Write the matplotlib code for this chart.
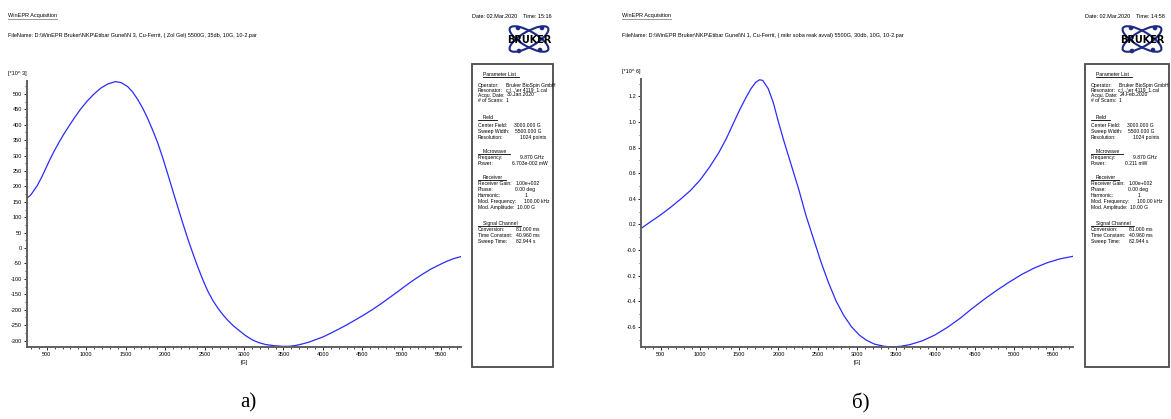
import matplotlib
matplotlib.use("Agg")
import matplotlib.pyplot as plt
from matplotlib.patches import Rectangle, Ellipse
from matplotlib.ticker import MultipleLocator, FixedLocator, FixedFormatter

field_a = [255, 300, 381, 440, 487, 540, 593, 660, 720, 785, 847, 930, 1017, 1100, 1186,
           1271, 1369, 1441, 1525, 1590, 1653, 1720, 1780, 1845, 1907, 1970, 2034, 2100,
           2161, 2225, 2288, 2350, 2415, 2480, 2542, 2605, 2669, 2735, 2797, 2860, 2936,
           3020, 3106, 3190, 3275, 3390, 3500, 3580, 3657, 3740, 3826, 3910, 4004, 4100,
           4208, 4310, 4419, 4525, 4631, 4740, 4843, 4950, 5055, 5160, 5267, 5370, 5479,
           5560, 5648, 5745]
signal_a = [163, 173, 203, 232, 258, 287, 314, 345, 371, 397, 421, 451, 478, 500, 519,
            532, 540, 537, 524, 506, 482, 452, 420, 381, 341, 293, 240, 184,
            133, 80, 30, -16, -62, -104, -140, -170, -195, -217, -235, -251, -267,
            -284, -298, -307, -313, -317, -319, -318.5, -316, -311, -305, -297, -288, -276,
            -262, -248, -232, -216, -199, -180, -161, -141, -121, -102, -84, -68, -54,
            -44, -35, -28]

field_b = [255, 370, 490, 620, 750, 880, 1000, 1120, 1240, 1340, 1430, 1510, 1590, 1650,
           1710, 1760, 1800, 1870, 1935, 2000, 2065, 2160, 2260, 2350, 2450, 2545, 2640,
           2735, 2830, 2930, 3030, 3120, 3220, 3340, 3450, 3560, 3670, 3830, 3990, 4150,
           4310, 4460, 4620, 4780, 4940, 5100, 5260, 5420, 5580, 5745]
signal_b = [0.17, 0.22, 0.27, 0.33, 0.395, 0.465, 0.545, 0.645, 0.76, 0.875, 0.995, 1.10,
            1.195, 1.26, 1.31, 1.33, 1.325, 1.26, 1.15, 1.00, 0.86, 0.67, 0.47, 0.27, 0.08,
            -0.10, -0.26, -0.40, -0.51, -0.60, -0.665, -0.705, -0.735, -0.752, -0.758,
            -0.752, -0.74, -0.71, -0.665, -0.605, -0.535, -0.46, -0.385, -0.315, -0.25,
            -0.19, -0.14, -0.10, -0.07, -0.05]

xticks = [500, 1000, 1500, 2000, 2500, 3000, 3500, 4000, 4500, 5000, 5500]
yticks_a = [-300, -250, -200, -150, -100, -50, 0, 50, 100, 150, 200, 250, 300, 350, 400, 450, 500]
yticks_b = [-0.6, -0.4, -0.2, 0.0, 0.2, 0.4, 0.6, 0.8, 1.0, 1.2]
ylabels_b = ["-0.6", "-0.4", "-0.2", "-0.0", "0.2", "0.4", "0.6", "0.8", "1.0", "1.2"]

filename_a = "FileName: D:\\WinEPR Bruker\\NKP\\Etibar Gunel\\N 3, Cu-Ferrit, ( Zol Gel) 5500G, 35db, 10G, 10-2.par"
filename_b = "FileName: D:\\WinEPR Bruker\\NKP\\Etibar Gunel\\N 1, Cu-Ferrit, ( mikr soba reak avval) 5500G, 30db, 10G, 10-2.par"
date_a = "Date: 02.Mar.2020    Time: 15:16"
date_b = "Date: 02.Mar.2020    Time: 14:58"

param_labels = ["Operator:", "Resonator:", "Acqu. Date:", "# of Scans:",
                "Center Field:", "Sweep Width:", "Resolution:",
                "Frequency:", "Power:",
                "Receiver Gain:", "Phase:", "Harmonic:", "Mod. Frequency:", "Mod. Amplitude:",
                "Conversion:", "Time Constant:", "Sweep Time:"]
param_values_a = ["Bruker BioSpin GmbH", "c:\\...\\er 4119_1.cal", "30.Jan.2020", "1",
                  "3000.000 G", "5500.000 G", "1024 points",
                  "9.870 GHz", "6.703e-002 mW",
                  "1.00e+002", "0.00 deg", "1", "100.00 kHz", "10.00 G",
                  "81.000 ms", "40.960 ms", "82.944 s"]
param_values_b = ["Bruker BioSpin GmbH", "c:\\...\\er 4119_1.cal", "24.Feb.2020", "1",
                  "3000.000 G", "5500.000 G", "1024 points",
                  "9.870 GHz", "0.211 mW",
                  "1.00e+002", "0.00 deg", "1", "100.00 kHz", "10.00 G",
                  "81.000 ms", "40.960 ms", "82.944 s"]
headings = ["Parameter List", "Field", "Microwave", "Receiver", "Signal Channel"]

# --- layout (pixels) ---
W, H = 1171, 419
row_y = [85, 90, 95, 100, 125, 131, 137, 157, 163, 183, 189, 195, 201, 207, 229, 235, 241]
value_dx = [34, 32, 27, 23, 42, 43, 48, 48, 40, 44, 43, 53, 52, 44, 44, 44, 44]
heading_y = [74, 117, 151, 177, 223]

FONT = "Liberation Sans"
SMALL = 4.0
BOXFS = 3.6
BLUE = "#2b2bff"
GREY = "#606060"

fig = plt.figure(figsize=(W / 100, H / 100), dpi=100)
ov = fig.add_axes([0, 0, 1, 1])
ov.set_xlim(0, W)
ov.set_ylim(H, 0)
ov.axis("off")
renderer = fig.canvas.get_renderer()


def right_edge(t):
    bb = t.get_window_extent(renderer=renderer)
    return ov.transData.inverted().transform((bb.x1, bb.y0))[0]


def underline(t, x0, pad=3, dy=2.5, color="black"):
    y = t.get_position()[1] + dy
    ov.plot([x0, right_edge(t) + pad], [y, y], color=color, lw=0.6)


def logo(cx, cy):
    navy = "#1c2a86"
    for ang in (30, -30):
        ov.add_patch(Ellipse((cx, cy), 44, 15, angle=ang, fill=False, ec=navy, lw=1.5))
    for dx, dy in ((-11, -11), (-10, 12), (13, -11), (11, 11)):
        ov.add_patch(Ellipse((cx + dx, cy + dy), 3.2, 3.2, color=navy))
    ov.text(cx, cy + 1, "BRUKER", fontsize=7, fontweight="bold", family="DejaVu Sans",
            ha="center", va="center", color="black")


def panel(ox, plot_right, plot_top, field, signal, ylim, yticks, ylabels, yminor,
          scale, fname, date, values, box_left, box_right, caption):
    # header texts
    t = ov.text(ox + 8, 16, "WinEPR Acquisition", fontsize=SMALL, family=FONT, va="center")
    underline(t, ox + 8, pad=0, dy=3, color="#888888")
    ov.text(ox + 8, 36, fname, fontsize=SMALL, family=FONT, va="center")
    ov.text(ox + 8, plot_top - 8, scale, fontsize=SMALL, family=FONT, va="center")

    # spectrum
    left, bottom = ox + 27, 347
    ax = fig.add_axes([left / W, 1 - bottom / H, (plot_right - left) / W, (bottom - plot_top) / H])
    ax.set_facecolor("none")
    ax.plot(field, signal, color=BLUE, lw=0.9)
    ax.set_xlim(250, 5750)
    ax.set_ylim(*ylim)
    for s in ("top", "right"):
        ax.spines[s].set_visible(False)
    for s in ("left", "bottom"):
        ax.spines[s].set_color(GREY)
        ax.spines[s].set_linewidth(1.4)
    ax.xaxis.set_major_locator(FixedLocator(xticks))
    ax.xaxis.set_minor_locator(MultipleLocator(100))
    ax.yaxis.set_major_locator(FixedLocator(yticks))
    ax.yaxis.set_major_formatter(FixedFormatter(ylabels))
    ax.yaxis.set_minor_locator(MultipleLocator(yminor))
    ax.tick_params(which="major", length=2.5, width=0.6, pad=1, labelsize=SMALL, colors="black")
    ax.tick_params(which="minor", length=1.6, width=0.5)
    for lab in ax.get_xticklabels() + ax.get_yticklabels():
        lab.set_family(FONT)
    x3000 = left + (3000 - 250) * (plot_right - left) / 5500
    ov.text(x3000, 362, "[G]", fontsize=SMALL, family=FONT, ha="center", va="center")

    # date, logo
    ov.text(box_left, 16, date, fontsize=SMALL, family=FONT, va="center")
    logo(box_left + 57, 39)

    # parameter box
    box = Rectangle((box_left, 64), box_right - box_left, 303, fill=False, ec="#4a4a4a", lw=1.3)
    ov.add_patch(box)
    for i, (h, hy) in enumerate(zip(headings, heading_y)):
        t = ov.text(box_left + 11, hy, h, fontsize=BOXFS, family=FONT, va="center")
        underline(t, box_left + (11 if i == 0 else 6), pad=3, dy=2.8)
    for lab, val, y, dx in zip(param_labels, values, row_y, value_dx):
        t = ov.text(box_left + 6, y, lab, fontsize=BOXFS, family=FONT, va="center")
        vx = max(box_left + dx, right_edge(t) + 2.5)
        v = ov.text(vx, y, val, fontsize=BOXFS, family=FONT, va="center")
        v.set_clip_path(box)

    ov.text((left + plot_right) / 2 + 4, 403, caption, fontsize=15, family="Liberation Serif",
            ha="center", va="center")


panel(0, 461, 81, field_a, signal_a, (-321, 542), yticks_a, [str(v) for v in yticks_a], 25,
      "[*10^ 3]", filename_a, date_a, param_values_a, 472, 553, "a)")
panel(614, 1073, 79, field_b, signal_b, (-0.758, 1.336), yticks_b, ylabels_b, 0.1,
      "[*10^ 6]", filename_b, date_b, param_values_b, 1085, 1169, "б)")

fig.savefig("out.png", dpi=100)
